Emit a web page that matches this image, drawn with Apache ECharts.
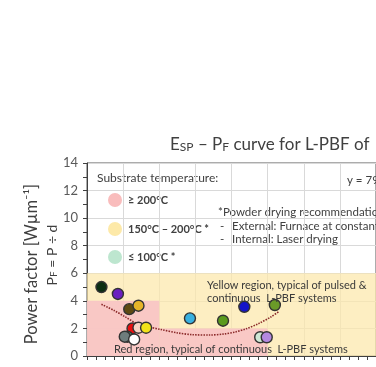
<!DOCTYPE html>
<html><head><meta charset="utf-8">
<script src="https://cdn.jsdelivr.net/npm/echarts@6/dist/echarts.min.js"></script>
<style>html,body{margin:0;padding:0;background:#fff;overflow:hidden}#c{width:376px;height:367px}</style>
</head><body><div id="c"></div>
<script>
// ---- data ----
const yTickValues = [0, 2, 4, 6, 8, 10, 12, 14];
const pointX = [8, 17.1, 23.4, 28.5, 25.2, 28.5, 32.7, 22.4, 20.9, 26.1, 57, 75.3, 87.1, 104, 95.9, 99.5];
const pointY = [5.0, 4.5, 3.4, 3.65, 2.0, 2.05, 2.05, 1.4, 1.4, 1.2, 2.73, 2.56, 3.57, 3.7, 1.36, 1.36];
const pointColors = ['#0b2e12', '#6a1fc0', '#5e4a12', '#e6b428', '#e81010', '#f8d4c4', '#f2e21a',
  '#4e8a68', '#6e7c7c', '#ffffff', '#38b0e0', '#5a9a1e', '#1414c8', '#6a9a28', '#cfe8d6', '#b488e0'];
const trendX = [8, 15, 21, 27, 34, 41, 50, 58, 68, 76, 82, 88, 95, 102, 106];
const trendY = [3.75, 3.3, 2.85, 2.4, 2.12, 1.92, 1.68, 1.55, 1.52, 1.6, 1.74, 1.97, 2.35, 2.85, 3.2];
const yellowRegionX = [0, 160], yellowRegionY = [0, 6];
const redRegion1X = [0, 40], redRegion1Y = [0, 4];
const redRegion2X = [40, 100], redRegion2Y = [0, 2];

const FONT = 'Lato';
const chart = echarts.init(document.getElementById('c'));
const points = pointX.map((x, i) => ({ value: [x, pointY[i]], itemStyle: { color: pointColors[i] } }));
const trend = trendX.map((x, i) => [x, trendY[i]]);

chart.setOption({
  animation: false,
  backgroundColor: '#fff',
  textStyle: { fontFamily: FONT },
  grid: { left: 87, top: 163, right: -154, bottom: 11, show: true, borderColor: '#595959', borderWidth: 1, backgroundColor: 'transparent' },
  xAxis: {
    type: 'value', min: 0, max: 160, interval: 20,
    axisLine: { lineStyle: { color: '#404040' } },
    axisLabel: { show: false },
    axisTick: { show: true, length: 4, lineStyle: { color: '#404040' } },
    minorTick: { show: true, splitNumber: 4, length: 4, lineStyle: { color: '#404040' } },
    splitLine: { show: true, lineStyle: { color: '#d9d9d9' } }
  },
  yAxis: {
    type: 'value', min: 0, max: 14, interval: 2,
    axisLine: { show: true, lineStyle: { color: '#404040' } },
    axisLabel: { color: '#595959', fontSize: 13, margin: 9, fontFamily: FONT,
      formatter: v => yTickValues.includes(v) ? String(v) : '' },
    axisTick: { show: true, length: 4, lineStyle: { color: '#404040' } },
    minorTick: { show: true, splitNumber: 2, length: 4, lineStyle: { color: '#404040' } },
    splitLine: { show: true, lineStyle: { color: '#d9d9d9' } }
  },
  series: [
    {
      type: 'line', data: [], silent: true,
      markArea: { silent: true, data: [
        [{ coord: [yellowRegionX[0], yellowRegionY[0]], itemStyle: { color: 'rgba(252,232,170,0.72)' } }, { coord: [yellowRegionX[1], yellowRegionY[1]] }]
      ] }
    },
    {
      type: 'line', data: [], silent: true,
      markArea: { silent: true, data: [
        [{ coord: [redRegion1X[0], redRegion1Y[0]], itemStyle: { color: 'rgba(248,196,198,0.92)' } }, { coord: [redRegion1X[1], redRegion1Y[1]] }],
        [{ coord: [redRegion2X[0], redRegion2Y[0]], itemStyle: { color: 'rgba(248,196,198,0.92)' } }, { coord: [redRegion2X[1], redRegion2Y[1]] }]
      ] }
    },
    {
      type: 'line', data: trend, smooth: 0.3, symbol: 'none',
      lineStyle: { color: '#8b2a2a', width: 1.6, type: [1.5, 1.2] }, z: 3
    },
    {
      type: 'scatter', data: points, symbolSize: 11,
      itemStyle: { borderColor: '#333', borderWidth: 1.4, opacity: 1 }, z: 4
    }
  ],
  graphic: [
    { type: 'text', left: 170, top: 136, style: { rich: {
        a: { fontSize: 17, fontFamily: FONT, fill: '#404040' },
        b: { fontSize: 12, fontFamily: FONT, fill: '#404040', verticalAlign: 'bottom' } },
      text: '{a|E}{b|SP}{a| – P}{b|F}{a| curve for L-PBF of}' } },
    { type: 'text', x: 32, y: 264, rotation: Math.PI / 2, style: { text: 'Power factor [Wµm⁻¹]', fontSize: 16.5, fontFamily: FONT, fill: '#404040', align: 'center', verticalAlign: 'middle' } },
    { type: 'text', x: 52, y: 255, rotation: Math.PI / 2, style: { align: 'center', verticalAlign: 'middle', rich: {
        a: { fontSize: 14, fontFamily: FONT, fill: '#404040' },
        s: { fontSize: 10, fontFamily: FONT, fill: '#404040', verticalAlign: 'bottom' } },
      text: '{a|P}{s|F}{a| = P ÷ d}' } },
    { type: 'text', x: 97, y: 178, style: { text: 'Substrate temperature:', fontSize: 12, fontFamily: FONT, fill: '#404040', verticalAlign: 'middle' } },
    { type: 'circle', shape: { cx: 115, cy: 200, r: 7 }, style: { fill: '#f9bcbc' } },
    { type: 'circle', shape: { cx: 115, cy: 229, r: 7 }, style: { fill: '#fde9a8' } },
    { type: 'circle', shape: { cx: 115, cy: 257, r: 7 }, style: { fill: '#bde6cf' } },
    { type: 'text', x: 128, y: 200, style: { text: '≥ 200°C', fontSize: 11, fontWeight: 'bold', fontFamily: FONT, fill: '#404040', verticalAlign: 'middle' } },
    { type: 'text', x: 128, y: 229, style: { text: '150°C – 200°C *', fontSize: 11, fontWeight: 'bold', fontFamily: FONT, fill: '#404040', verticalAlign: 'middle' } },
    { type: 'text', x: 128, y: 257, style: { text: '≤ 100°C *', fontSize: 11, fontWeight: 'bold', fontFamily: FONT, fill: '#404040', verticalAlign: 'middle' } },
    { type: 'text', x: 218, y: 212, style: { text: '*Powder drying recommendations:', fontSize: 11.5, fontFamily: FONT, fill: '#404040', verticalAlign: 'middle' } },
    { type: 'text', x: 220, y: 226, style: { text: '-', fontSize: 11.5, fontFamily: FONT, fill: '#404040', verticalAlign: 'middle' } },
    { type: 'text', x: 232, y: 226, style: { text: 'External: Furnace at constant temperature', fontSize: 11.5, fontFamily: FONT, fill: '#404040', verticalAlign: 'middle' } },
    { type: 'text', x: 220, y: 239, style: { text: '-', fontSize: 11.5, fontFamily: FONT, fill: '#404040', verticalAlign: 'middle' } },
    { type: 'text', x: 232, y: 239, style: { text: 'Internal: Laser drying', fontSize: 11.5, fontFamily: FONT, fill: '#404040', verticalAlign: 'middle' } },
    { type: 'text', x: 347, y: 180, style: { text: 'y = 79', fontSize: 11.5, fontFamily: FONT, fill: '#404040', verticalAlign: 'middle' } },
    { type: 'text', x: 207, y: 285, z: 10, style: { text: 'Yellow region, typical of pulsed &', fontSize: 11, fontFamily: FONT, fill: '#3a3a3a', verticalAlign: 'middle' } },
    { type: 'text', x: 207, y: 298, z: 10, style: { text: 'continuous  L-PBF systems', fontSize: 11, fontFamily: FONT, fill: '#3a3a3a', verticalAlign: 'middle' } },
    { type: 'text', x: 114, y: 349, z: 10, style: { text: 'Red region, typical of continuous  L-PBF systems', fontSize: 11, fontFamily: FONT, fill: '#3a3a3a', verticalAlign: 'middle' } }
  ]
});
</script></body></html>
